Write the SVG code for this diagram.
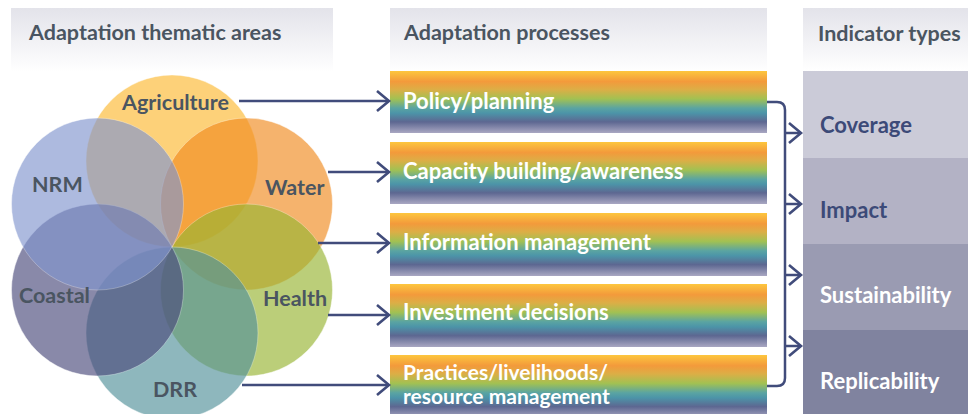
<svg xmlns="http://www.w3.org/2000/svg" width="968" height="414" viewBox="0 0 968 414">
<defs>
<linearGradient id="hdr" x1="0" y1="0" x2="0" y2="1">
<stop offset="0" stop-color="#e3e3ea"/>
<stop offset="1" stop-color="#ffffff"/>
</linearGradient>
<linearGradient id="rainbow" x1="0" y1="0" x2="0" y2="1">
<stop offset="0" stop-color="#fdc63e"/>
<stop offset="0.17" stop-color="#f39a3b"/>
<stop offset="0.3" stop-color="#dcae46"/>
<stop offset="0.45" stop-color="#a2c152"/>
<stop offset="0.6" stop-color="#5aa4a2"/>
<stop offset="0.68" stop-color="#4c94a8"/>
<stop offset="0.82" stop-color="#5d6791"/>
<stop offset="1" stop-color="#a9a7c2"/>
</linearGradient>
<marker id="chev" markerUnits="userSpaceOnUse" markerWidth="22" markerHeight="28" viewBox="-16 -14 22 28" refX="0" refY="0" orient="auto">
<path d="M-12,-10 L0,0 L-12,10" fill="none" stroke="#414c7b" stroke-width="2.6"/>
</marker>
</defs>
<style>
.hdrtxt{font-family:Lato,"Open Sans",sans-serif;font-weight:700;font-size:21.5px;fill:#4a5561}
.circ{stroke:#ffffff;stroke-opacity:0.55;stroke-width:0.8;opacity:0.65}
.clabel{font-family:Lato,"Open Sans",sans-serif;font-weight:700;font-size:21.5px;fill:#4a5561}
.bar{fill:url(#rainbow)}
.btxt{font-family:Lato,"Open Sans",sans-serif;font-weight:700;font-size:22px;fill:#ffffff}
.btxt2{font-family:Lato,"Open Sans",sans-serif;font-weight:700;font-size:21px;fill:#ffffff}
.itxt{font-family:Lato,"Open Sans",sans-serif;font-weight:700;font-size:22px}
.conn{fill:none;stroke:#414c7b;stroke-width:2.5}
</style>
<rect width="968" height="414" fill="#ffffff"/>

<g id="header-areas">
<rect x="11" y="8" width="322" height="64" fill="url(#hdr)"/>
<text class="hdrtxt" x="29" y="40">Adaptation thematic areas</text>
</g>
<g id="header-processes">
<rect x="390" y="8" width="377" height="64" fill="url(#hdr)"/>
<text class="hdrtxt" x="404" y="40">Adaptation processes</text>
</g>
<g id="header-indicators">
<rect x="803" y="8" width="165" height="63" fill="url(#hdr)"/>
<text class="hdrtxt" x="818" y="41">Indicator types</text>
</g>

<g id="venn">
<circle id="c-agriculture" class="circ" cx="172" cy="161" r="86" fill="#fcba32"/>
<circle id="c-water" class="circ" cx="246.5" cy="204" r="86" fill="#f18c20"/>
<circle id="c-health" class="circ" cx="246.5" cy="290" r="86" fill="#98b532"/>
<circle id="c-drr" class="circ" cx="172" cy="333" r="86" fill="#53929a"/>
<circle id="c-coastal" class="circ" cx="97.5" cy="290" r="86" fill="#4b4b7c"/>
<circle id="c-nrm" class="circ" cx="97.5" cy="204" r="86" fill="#8296cf"/>
</g>
<g id="agriculture"><text class="clabel" x="122" y="110">Agriculture</text></g>
<g id="nrm"><text class="clabel" x="32" y="192">NRM</text></g>
<g id="water"><text class="clabel" x="265" y="195">Water</text></g>
<g id="coastal"><text class="clabel" x="19" y="303">Coastal</text></g>
<g id="health"><text class="clabel" x="263" y="306">Health</text></g>
<g id="drr"><text class="clabel" x="153" y="397">DRR</text></g>

<g id="p-policy">
<rect class="bar" x="390" y="71" width="377" height="62"/>
<text class="btxt" x="403" y="109">Policy/planning</text>
</g>
<g id="p-capacity">
<rect class="bar" x="390" y="142" width="377" height="62"/>
<text class="btxt" x="403" y="179">Capacity building/awareness</text>
</g>
<g id="p-information">
<rect class="bar" x="390" y="213" width="377" height="63"/>
<text class="btxt" x="403" y="250">Information management</text>
</g>
<g id="p-investment">
<rect class="bar" x="390" y="284" width="377" height="63"/>
<text class="btxt" x="403" y="320">Investment decisions</text>
</g>
<g id="p-practices">
<rect class="bar" x="390" y="355" width="377" height="63"/>
<text class="btxt2" x="403" y="380">Practices/livelihoods/</text>
<text class="btxt2" x="403" y="404">resource management</text>
</g>

<g id="i-coverage">
<rect x="803" y="71" width="165" height="87" fill="#cbcbd8"/>
<text class="itxt" x="820" y="133" fill="#3c4a78">Coverage</text>
</g>
<g id="i-impact">
<rect x="803" y="158" width="165" height="86" fill="#b3b2c5"/>
<text class="itxt" x="820" y="218" fill="#3c4a78">Impact</text>
</g>
<g id="i-sustainability">
<rect x="803" y="244" width="165" height="86" fill="#9a9bb2"/>
<text class="itxt" x="820" y="303" fill="#ffffff">Sustainability</text>
</g>
<g id="i-replicability">
<rect x="803" y="330" width="165" height="84" fill="#80839f"/>
<text class="itxt" x="820" y="389" fill="#ffffff">Replicability</text>
</g>

<g id="connectors">
<path class="conn" d="M239,101 H389" marker-end="url(#chev)"/>
<path class="conn" d="M328,172 H389" marker-end="url(#chev)"/>
<path class="conn" d="M318,243 H389" marker-end="url(#chev)"/>
<path class="conn" d="M328,315 H389" marker-end="url(#chev)"/>
<path class="conn" d="M242,385 H389" marker-end="url(#chev)"/>
<path class="conn" d="M767,102 H777 Q785,102 785,110 V378 Q785,386 777,386 H767"/>
<path class="conn" d="M785,133 H801" marker-end="url(#chev)"/>
<path class="conn" d="M785,204 H801" marker-end="url(#chev)"/>
<path class="conn" d="M785,275 H801" marker-end="url(#chev)"/>
<path class="conn" d="M785,346 H801" marker-end="url(#chev)"/>
</g>
</svg>
